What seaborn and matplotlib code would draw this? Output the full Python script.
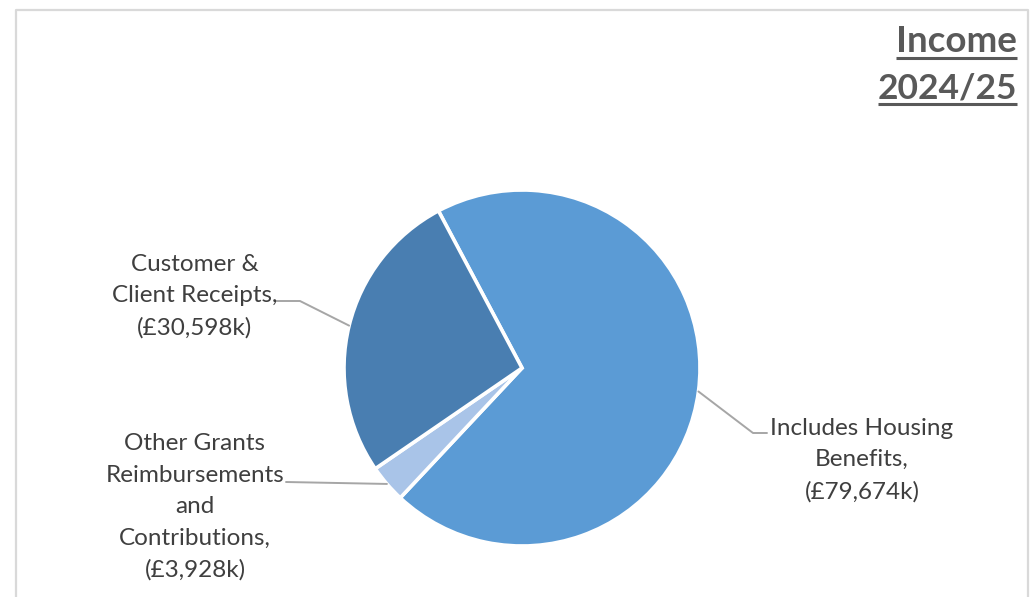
import matplotlib
matplotlib.use("Agg")
import matplotlib.pyplot as plt
import numpy as np
import seaborn as sns

# Income 2024/25, in £ thousands
categories = ["Includes Housing\nBenefits,",
              "Other Grants\nReimbursements\nand\nContributions,",
              "Customer &\nClient Receipts,"]
values = [79674, 3928, 30598]
value_labels = ["(£79,674k)", "(£3,928k)", "(£30,598k)"]
colors = ["#5B9BD5", "#A9C4E8", "#497EB1"]
title_lines = ["Income", "2024/25"]

sns.set_theme(style="white")
plt.rcParams["font.family"] = ["Lato", "DejaVu Sans"]

W, H = 1030, 597
fig = plt.figure(figsize=(W / 100, H / 100), dpi=100)
ax = fig.add_axes([0, 0, 1, 1])


def py(y):
    """Pixel row (from top) to data y."""
    return H - y


cx, cy, r = 522, py(368), 178
wedges, _ = ax.pie(values, startangle=118, counterclock=False,
                   center=(cx, cy), radius=r, colors=colors, frame=True,
                   wedgeprops=dict(edgecolor="white", linewidth=2.6))
ax.set_xlim(0, W)
ax.set_ylim(0, H)
ax.set_aspect("equal")
ax.axis("off")

# chart frame
ax.plot([15.5, 15.5, 1027.5, 1027.5], [py(600), py(9.5), py(9.5), py(600)],
        color="#D9D9D9", lw=1.6, clip_on=False)


def anchor(w):
    mid = np.deg2rad((w.theta1 + w.theta2) / 2)
    return cx + r * np.cos(mid), cy + r * np.sin(mid)


line_kw = dict(color="#A6A6A6", lw=1.4)
text_kw = dict(color="#3F3F3F", fontsize=17.5, ha="center", va="center",
               linespacing=1.62)

# Housing Benefits
ax_, ay_ = anchor(wedges[0])
ax.plot([ax_, 753, 767], [ay_, py(433), py(433)], **line_kw)
ax.text(862, py(460), categories[0] + "\n" + value_labels[0], **text_kw)

# Other Grants
ax_, ay_ = anchor(wedges[1])
ax.plot([ax_, 286], [ay_, py(482)], **line_kw)
ax.text(195, py(507), categories[1] + "\n" + value_labels[1], **text_kw)

# Customer & Client Receipts
ax_, ay_ = anchor(wedges[2])
ax.plot([ax_, 300, 276], [ay_, py(301), py(301)], **line_kw)
ax.text(195, py(296), categories[2] + "\n" + value_labels[2], **text_kw)

# underlined title, right-aligned
fig.canvas.draw()
renderer = fig.canvas.get_renderer()
for label, yc, yu, fs in [(title_lines[0], 41, 58, 26.5),
                          (title_lines[1], 88, 104, 25.5)]:
    t = ax.text(1017, py(yc), label, ha="right", va="center", fontsize=fs,
                fontweight="bold", color="#595959")
    bb = t.get_window_extent(renderer=renderer)
    x0 = ax.transData.inverted().transform((bb.x0, 0))[0]
    ax.plot([x0, 1017], [py(yu), py(yu)], color="#595959", lw=2.2,
            solid_capstyle="butt")

fig.savefig("out.png", dpi=100)
